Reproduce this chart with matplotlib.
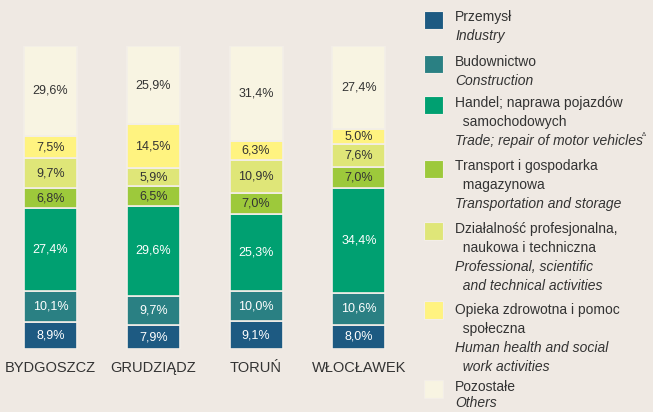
import numpy as np
import matplotlib
matplotlib.use("Agg")
import matplotlib.pyplot as plt
from matplotlib.patches import Rectangle

plt.rcParams['font.family'] = ['Liberation Sans', 'DejaVu Sans']

# data
cities = ["BYDGOSZCZ", "GRUDZIĄDZ", "TORUŃ", "WŁOCŁAWEK"]
przemysl = [8.9, 7.9, 9.1, 8.0]
budownictwo = [10.1, 9.7, 10.0, 10.6]
handel = [27.4, 29.6, 25.3, 34.4]
transport = [6.8, 6.5, 7.0, 7.0]
dzialalnosc = [9.7, 5.9, 10.9, 7.6]
opieka = [7.5, 14.5, 6.3, 5.0]
pozostale = [29.6, 25.9, 31.4, 27.4]

series = [przemysl, budownictwo, handel, transport, dzialalnosc, opieka, pozostale]
colors = ["#1d5a82", "#2a8083", "#00a071", "#9dc93b", "#dfe678", "#fff380", "#f8f4e2"]
txt_colors = ["white", "white", "white", "#333333", "#333333", "#333333", "#333333"]

legend_pl = [["Przemysł"], ["Budownictwo"],
             ["Handel; naprawa pojazdów", "  samochodowych"],
             ["Transport i gospodarka", "  magazynowa"],
             ["Działalność profesjonalna,", "  naukowa i techniczna"],
             ["Opieka zdrowotna i pomoc", "  społeczna"], ["Pozostałe"]]
legend_en = [["Industry"], ["Construction"], ["Trade; repair of motor vehicles"],
             ["Transportation and storage"],
             ["Professional, scientific", "  and technical activities"],
             ["Human health and social", "  work activities"], ["Others"]]

bg = "#efe9e3"
fig = plt.figure(figsize=(6.53, 4.12), dpi=100, facecolor=bg)
W, H = 653, 412

ax = fig.add_axes([0, (H - 349) / H, 410 / W, 303 / H])
ax.patch.set_alpha(0)
x = np.arange(len(cities))
bottom = np.zeros(len(cities))
for vals, c, tc in zip(series, colors, txt_colors):
    vals = np.array(vals)
    ax.bar(x, vals, 0.515, bottom=bottom, color=c, edgecolor="#f3eee8", linewidth=1.2)
    for xi, b, v in zip(x, bottom, vals):
        ax.text(xi, b + v / 2, f"{v:.1f}%".replace(".", ","), ha="center", va="center",
                fontsize=9, color=tc)
    bottom += vals
ax.set_xlim(-0.491, 3.497)
ax.set_ylim(0, 100)
ax.axis("off")

for xi, name in zip(x, cities):
    ax.text(xi, -6.2, name, ha="center", va="center", fontsize=10.5, color="#333333")

# legend
sq_y = [11, 55, 96, 160, 222, 301, 380]
pl_y = [17, 62, 103, 166, 229, 310, 387]
line_h = 19
for i, c in enumerate(colors):
    fig.patches.append(Rectangle((424 / W, 1 - (sq_y[i] + 18) / H), 19 / W, 18 / H,
                                 transform=fig.transFigure, facecolor=c,
                                 edgecolor="#f3eee8", linewidth=0.8))
    yy = pl_y[i]
    for line in legend_pl[i]:
        fig.text(455 / W, 1 - yy / H, line, ha="left", va="center",
                 fontsize=10, color="#333333")
        yy += line_h
    for line in legend_en[i]:
        fig.text(455 / W, 1 - min(yy, 403) / H, line, ha="left", va="center",
                 fontsize=10, color="#333333", style="italic")
        yy += line_h
fig.text(642 / W, 1 - 135 / H, "Δ", fontsize=4.5, color="#333333", ha="left", va="center")

fig.savefig("out.png", dpi=100, facecolor=bg)
